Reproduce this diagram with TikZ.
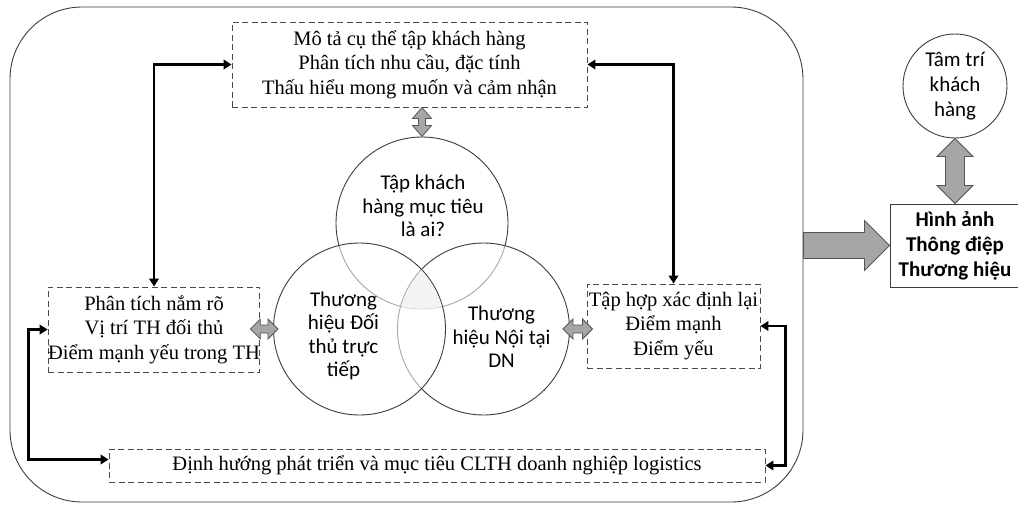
\documentclass[tikz,border=0pt]{standalone}
\usepackage{fontspec}
\setmainfont{Liberation Serif}
\newfontfamily\calibri{Carlito}
\usetikzlibrary{calc,arrows.meta}

\definecolor{edge}{HTML}{3C3C3C}
\definecolor{dashline}{HTML}{4A4A4A}
\definecolor{blockfill}{HTML}{A6A6A6}
\definecolor{blockline}{HTML}{555555}
\definecolor{coreshade}{HTML}{F3F3F3}

\tikzset{
  notebox/.style={draw=dashline, line width=0.9pt, dash pattern=on 6pt off 3.5pt,
    inner sep=0pt, align=center, font=\fontsize{20.5}{24.5}\selectfont},
  venn/.style={circle, draw=edge, line width=0.9pt, minimum size=172pt, inner sep=0pt},
  venntext/.style={align=center, font=\calibri\fontsize{21}{23.5}\selectfont},
  linkarrow/.style={line width=2.6pt,
    arrows={Triangle[length=8pt,width=9.5pt]-Triangle[length=8pt,width=9.5pt]}},
  blockstyle/.style={draw=blockline, fill=blockfill, line width=0.8pt, line join=miter},
  % double-headed block arrow: half shaft, half head, head length
  dblock/.style n args={3}{to path={
    let \p1=(\tikztostart), \p2=(\tikztotarget),
        \n1={veclen(\x2-\x1,\y2-\y1)},
        \n2={(\x2-\x1)/\n1}, \n3={(\y2-\y1)/\n1},
        \n4={\n1-#3}
    in ({\x1},{\y1})
    -- ({\x1+#3*\n2-(#2)*\n3},{\y1+#3*\n3+(#2)*\n2})
    -- ({\x1+#3*\n2-(#1)*\n3},{\y1+#3*\n3+(#1)*\n2})
    -- ({\x1+\n4*\n2-(#1)*\n3},{\y1+\n4*\n3+(#1)*\n2})
    -- ({\x1+\n4*\n2-(#2)*\n3},{\y1+\n4*\n3+(#2)*\n2})
    -- ({\x2},{\y2})
    -- ({\x1+\n4*\n2+(#2)*\n3},{\y1+\n4*\n3-(#2)*\n2})
    -- ({\x1+\n4*\n2+(#1)*\n3},{\y1+\n4*\n3-(#1)*\n2})
    -- ({\x1+#3*\n2+(#1)*\n3},{\y1+#3*\n3-(#1)*\n2})
    -- ({\x1+#3*\n2+(#2)*\n3},{\y1+#3*\n3-(#2)*\n2})
    -- cycle}},
  % single-headed block arrow: half shaft, half head, head length
  sblock/.style n args={3}{to path={
    let \p1=(\tikztostart), \p2=(\tikztotarget),
        \n1={veclen(\x2-\x1,\y2-\y1)},
        \n2={(\x2-\x1)/\n1}, \n3={(\y2-\y1)/\n1},
        \n4={\n1-#3}
    in ({\x1-(#1)*\n3},{\y1+(#1)*\n2})
    -- ({\x1+\n4*\n2-(#1)*\n3},{\y1+\n4*\n3+(#1)*\n2})
    -- ({\x1+\n4*\n2-(#2)*\n3},{\y1+\n4*\n3+(#2)*\n2})
    -- ({\x2},{\y2})
    -- ({\x1+\n4*\n2+(#2)*\n3},{\y1+\n4*\n3-(#2)*\n2})
    -- ({\x1+\n4*\n2+(#1)*\n3},{\y1+\n4*\n3-(#1)*\n2})
    -- ({\x1+(#1)*\n3},{\y1-(#1)*\n2})
    -- cycle}},
}

\begin{document}
\begin{tikzpicture}[x=1pt, y=-1pt]
  \useasboundingbox (0,0) rectangle (1018,504);

  % outer frame
  \node[draw=edge, line width=0.9pt, rounded corners=72pt, minimum width=793pt,
        minimum height=495pt, inner sep=0pt] (frame) at (406.5,254.5) {};

  % dashed text boxes
  \node[notebox, minimum width=355pt, minimum height=85pt] (tbox) at (409.5,64.5)
    {Mô tả cụ thể tập khách hàng\\ Phân tích nhu cầu, đặc tính\\ Thấu hiểu mong muốn và cảm nhận};
  \node[notebox, minimum width=210pt, minimum height=85pt] (lbox) at (154,329.5)
    {Phân tích nắm rõ\\ Vị trí TH đối thủ\\ Điểm mạnh yếu trong TH};
  \node[notebox, minimum width=173pt, minimum height=84pt] (rbox) at (673.5,326)
    {Tập hợp xác định lại\\ Điểm mạnh\\ Điểm yếu};
  \node[notebox, minimum width=656pt, minimum height=33pt] (bbox) at (437,465.5)
    {Định hướng phát triển và mục tiêu CLTH doanh nghiệp logistics};

  % Venn diagram
  \coordinate (o1) at (422,223);
  \coordinate (o2) at (359.5,329);
  \coordinate (o3) at (483.5,329);
  \node[venn] (c1) at (o1) {};
  \node[venn, fill=white, fill opacity=0.55] (c3) at (o3) {};
  \node[venn, fill=white, fill opacity=0.55] (c2) at (o2) {};
  % light shading of the common core, kept under the outlines
  \begin{scope}
    \clip (o1) circle (85.3pt);
    \clip (o2) circle (85.3pt);
    \fill[coreshade] (o3) circle (85.3pt);
  \end{scope}
  \node[venntext] (t1) at ($(c1)+(1,-17)$) {Tập khách\\ hàng mục tiêu\\ là ai?};
  \node[venntext] (t2) at ($(c2)+(-16,7)$) {Thương\\ hiệu Đối\\ thủ trực\\ tiếp};
  \node[venntext] (t3) at ($(c3)+(18,8)$) {Thương\\ hiệu Nội tại\\ DN};

  % right-hand side
  \node[circle, draw=edge, line width=0.9pt, minimum size=104pt, inner sep=0pt,
        align=center, font=\calibri\fontsize{21}{25}\selectfont] (mind) at (955,86)
    {Tâm trí\\ khách\\ hàng};
  \node[draw=edge, line width=0.9pt, minimum width=130pt, minimum height=83pt,
        inner sep=0pt, align=center, font=\calibri\bfseries\fontsize{21}{25}\selectfont]
        (hbox) at (955,245.5)
    {Hình ảnh\\ Thông điệp\\ Thương hiệu};

  % feedback links
  \draw[linkarrow] (lbox.north) |- (tbox.west);
  \draw[linkarrow] (rbox.north) |- (tbox.east);
  \draw[linkarrow] (lbox.west) -- ++(-19,0) |- ([yshift=6pt]bbox.west);
  \draw[linkarrow] (rbox.east) -- ++(25,0) |- (bbox.east);

  % block arrows
  \coordinate (la) at ($(lbox.east |- c2.west)+(-10,0)$);
  \coordinate (lb) at ($(c2.west)+(5,0)$);
  \coordinate (ra) at ($(c3.east)+(-7,0)$);
  \coordinate (rb) at ($(rbox.west |- c3.east)+(6,0)$);
  \draw[blockstyle] (c1.north |- tbox.south) to[dblock={3.5}{9.5}{11}] (c1.north);
  \draw[blockstyle] (la) to[dblock={4}{10}{10}] (lb);
  \draw[blockstyle] (ra) to[dblock={4}{10}{10}] (rb);
  \draw[blockstyle] (mind.south) to[dblock={9.5}{18}{18}] (mind.south |- hbox.north);
  \draw[blockstyle] (frame.east |- hbox.west) to[sblock={13}{25}{25}] (hbox.west);
\end{tikzpicture}
\end{document}
